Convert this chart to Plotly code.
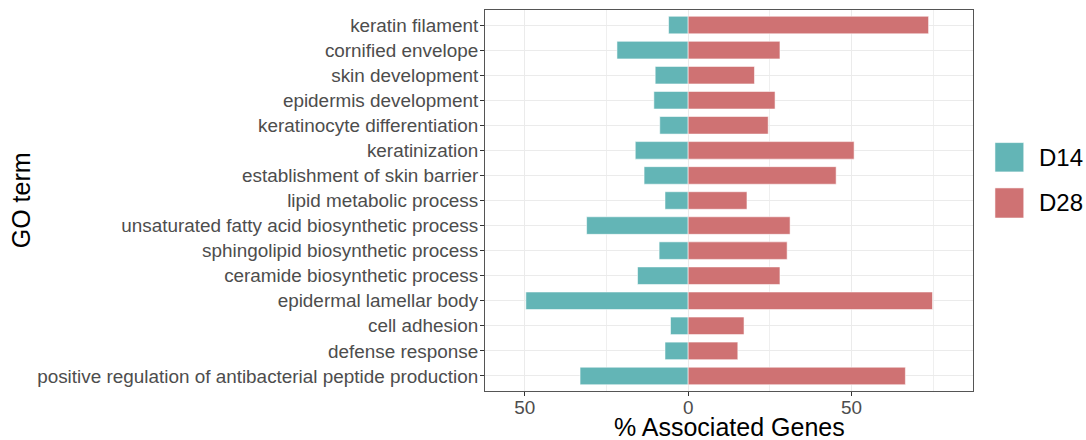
import plotly.graph_objects as go

# Data (top-to-bottom order as displayed)
go_terms = [
    "keratin filament",
    "cornified envelope",
    "skin development",
    "epidermis development",
    "keratinocyte differentiation",
    "keratinization",
    "establishment of skin barrier",
    "lipid metabolic process",
    "unsaturated fatty acid biosynthetic process",
    "sphingolipid biosynthetic process",
    "ceramide biosynthetic process",
    "epidermal lamellar body",
    "cell adhesion",
    "defense response",
    "positive regulation of antibacterial peptide production",
]
d14_pct = [6.0, 21.8, 10.1, 10.5, 8.7, 16.2, 13.5, 7.1, 31.1, 8.9, 15.5, 49.7, 5.4, 7.1, 33.1]
d28_pct = [73.6, 28.1, 20.3, 26.6, 24.5, 50.8, 45.3, 18.0, 31.2, 30.3, 28.1, 74.8, 17.1, 15.2, 66.5]
series_names = ["D14", "D28"]
x_tickvals = [-50, 0, 50]
x_ticktext = ["50", "0", "50"]

c14 = "#63B5B6"
c28 = "#CF7273"
edge = "rgba(255,255,255,0.55)"
font_family = "Liberation Sans, Arial, sans-serif"

fig = go.Figure()
fig.add_trace(go.Bar(
    y=go_terms, x=[-v for v in d14_pct], orientation="h", name=series_names[0],
    marker=dict(color=c14, line=dict(color=edge, width=1)), width=0.7, showlegend=False,
))
fig.add_trace(go.Bar(
    y=go_terms, x=d28_pct, orientation="h", name=series_names[1],
    marker=dict(color=c28, line=dict(color=edge, width=1)), width=0.7, showlegend=False,
))

# Manual legend (large square keys like ggplot)
legend_items = [(series_names[0], c14, 0.652, 0.575), (series_names[1], c28, 0.533, 0.454)]
for name, col, y1, y0 in legend_items:
    fig.add_shape(type="rect", xref="paper", yref="paper", x0=1.045, x1=1.104, y0=y0, y1=y1,
                  fillcolor=col, line=dict(color=edge, width=1))
    fig.add_annotation(xref="paper", yref="paper", x=1.131, y=(y0 + y1) / 2, text=name,
                       showarrow=False, xanchor="left", yanchor="middle",
                       font=dict(size=24, color="black", family=font_family))

# Axis titles as annotations for exact placement
fig.add_annotation(xref="paper", yref="paper", x=0.5, y=-0.055, text="% Associated Genes",
                   showarrow=False, xanchor="center", yanchor="top", borderpad=0,
                   font=dict(size=25, color="black", family=font_family))
fig.add_annotation(xref="paper", yref="paper", x=-0.984, y=0.5, text="GO term", textangle=-90,
                   showarrow=False, xanchor="left", yanchor="middle",
                   font=dict(size=25, color="black", family=font_family))

fig.update_layout(
    width=1086, height=440,
    margin=dict(l=485, r=113, t=10, b=49),
    barmode="relative",
    plot_bgcolor="white", paper_bgcolor="white",
    font=dict(family=font_family),
    xaxis=dict(
        range=[-62.2, 87.2], tickvals=x_tickvals, ticktext=x_ticktext,
        tickfont=dict(size=18.9, color="#4D4D4D"),
        showgrid=True, gridcolor="#EBEBEB", gridwidth=1.2,
        minor=dict(tickvals=[-25, 25, 75], showgrid=True, gridcolor="#EFEFEF", gridwidth=0.7, ticks=""),
        zeroline=False, automargin=False,
        showline=True, mirror=True, linecolor="#555555", linewidth=1,
        ticks="outside", ticklen=4, tickcolor="#333333", ticklabelstandoff=-5,
    ),
    yaxis=dict(
        categoryorder="array", categoryarray=go_terms,
        range=[14.6, -0.6],
        tickfont=dict(size=18.9, color="#4D4D4D"),
        showgrid=True, gridcolor="#EBEBEB", gridwidth=1.2,
        zeroline=False, automargin=False,
        showline=True, mirror=True, linecolor="#555555", linewidth=1,
        ticks="outside", ticklen=4, tickcolor="#333333", ticklabelstandoff=-2,
    ),
)

fig.write_html(
    "out.html",
    config={"displayModeBar": False},
    post_script="document.body.style.margin='0';document.body.style.overflow='hidden';",
)
